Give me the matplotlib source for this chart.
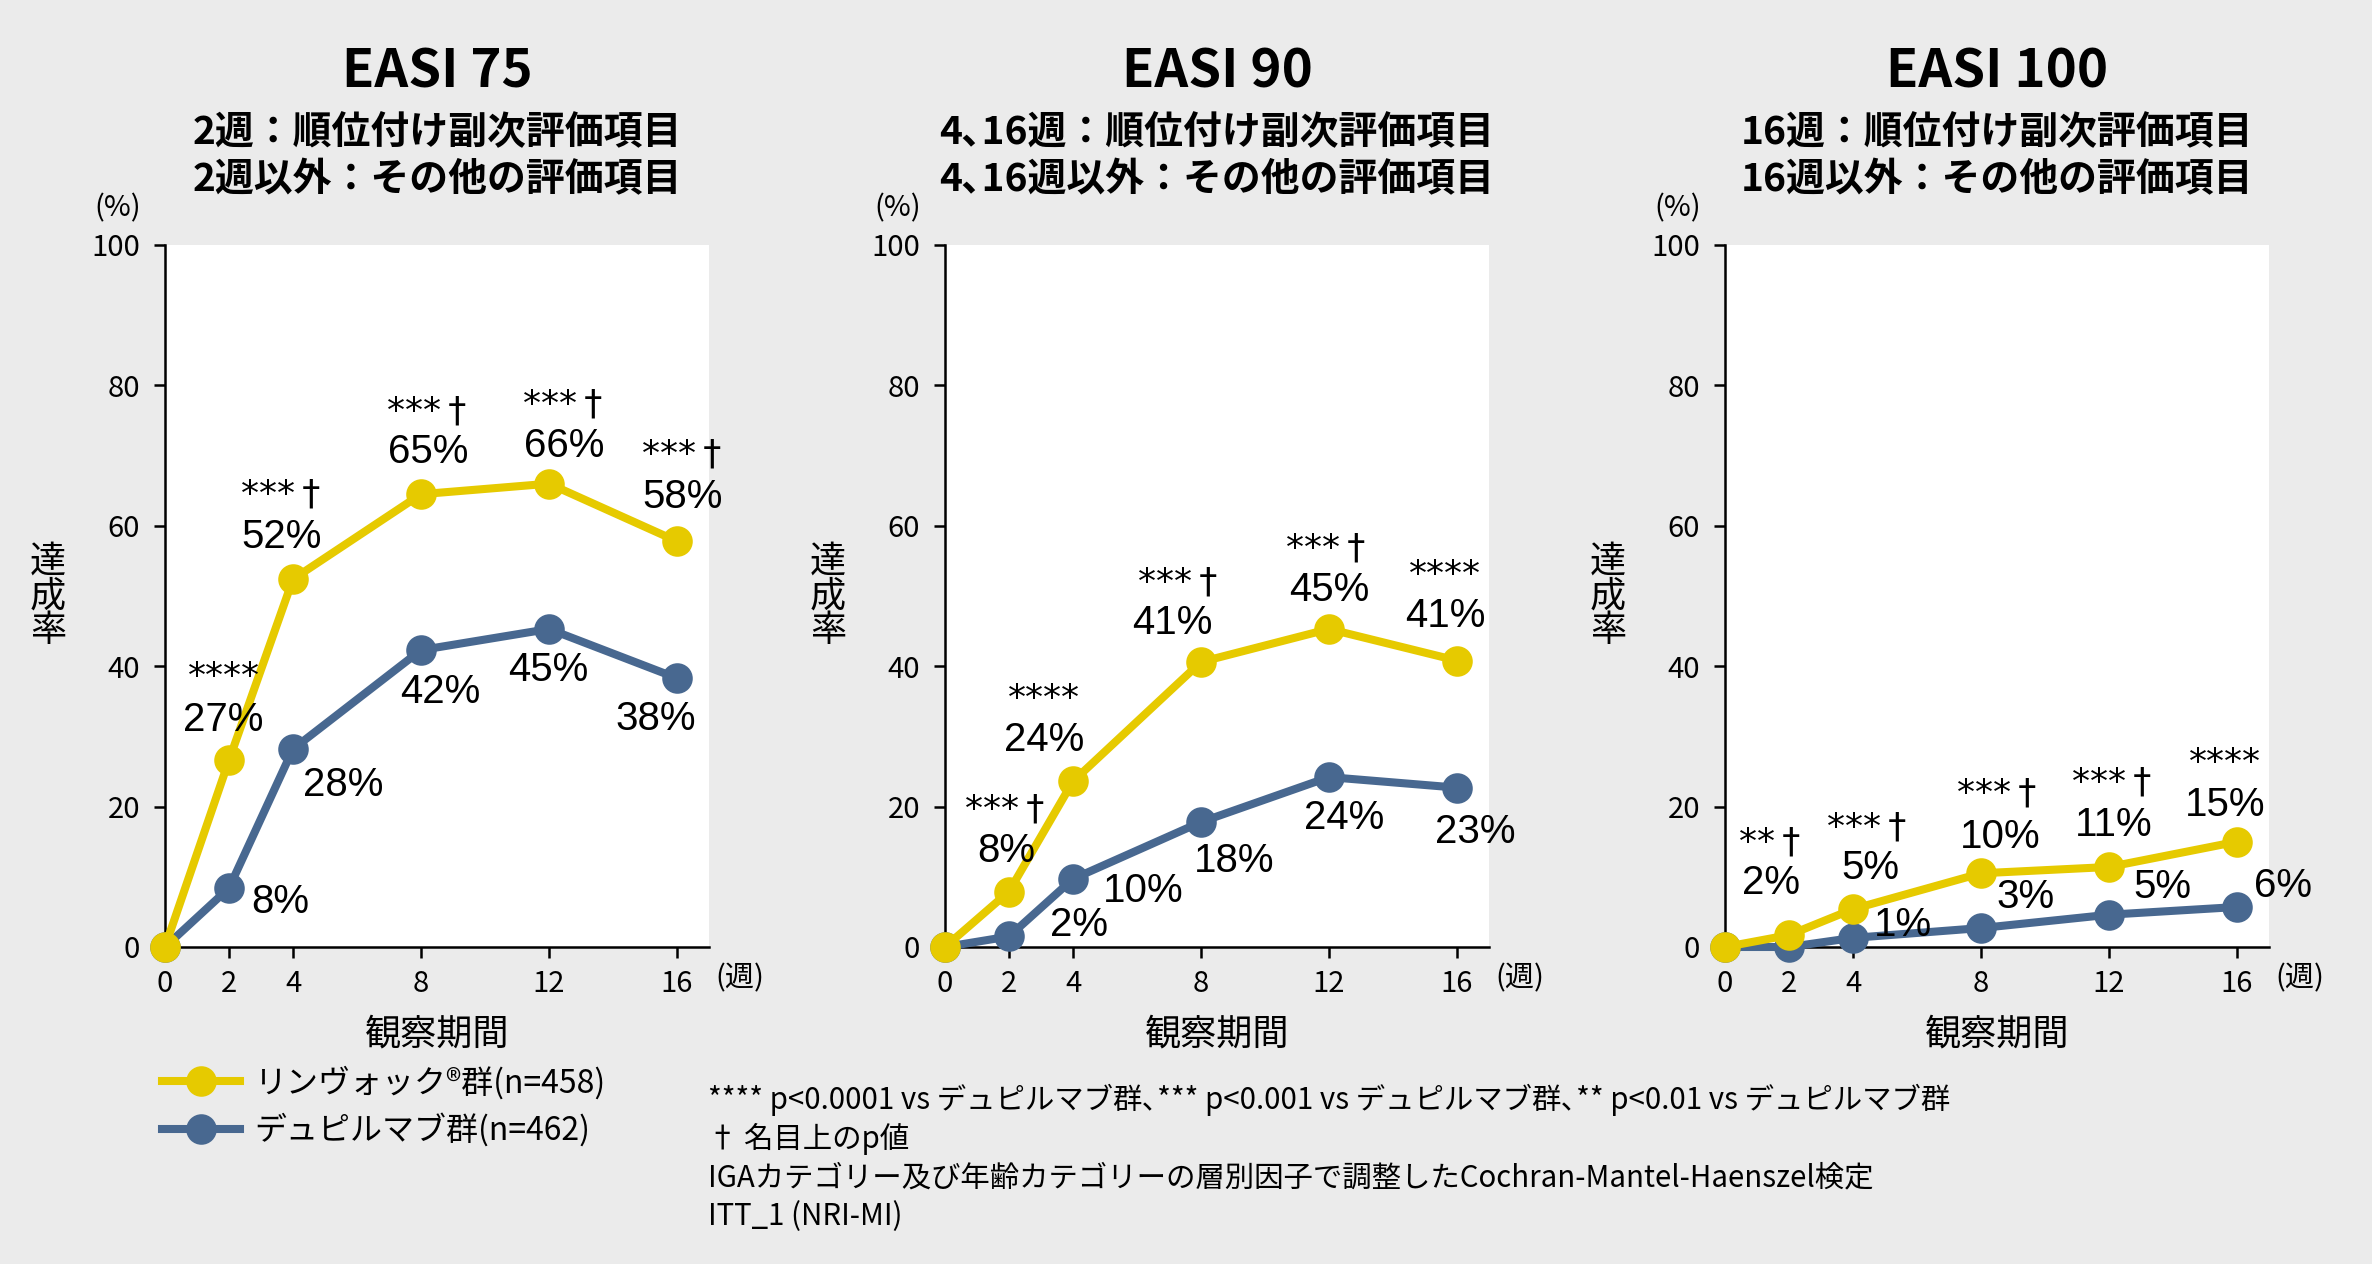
import matplotlib
matplotlib.use("Agg")
import matplotlib.pyplot as plt

plt.rcParams['font.family'] = ['Noto Sans CJK JP', 'DejaVu Sans']

# ---------------- data ----------------
weeks = [0, 2, 4, 8, 12, 16]
week_ticks = [0, 2, 4, 8, 12, 16]
y_ticks = [0, 20, 40, 60, 80, 100]

titles = ["EASI 75", "EASI 90", "EASI 100"]
subtitles_1 = ["2週：順位付け副次評価項目", "4､16週：順位付け副次評価項目", "16週：順位付け副次評価項目"]
subtitles_2 = ["2週以外：その他の評価項目", "4､16週以外：その他の評価項目", "16週以外：その他の評価項目"]

easi75_rinvoq = [0, 26.6, 52.4, 64.5, 66.0, 57.8]
easi75_dupi = [0, 8.4, 28.2, 42.3, 45.3, 38.3]
easi75_rinvoq_labels = ["", "27%", "52%", "65%", "66%", "58%"]
easi75_dupi_labels = ["", "8%", "28%", "42%", "45%", "38%"]
easi75_sig = ["", "****", "***\u2009†", "***\u2009†", "***\u2009†", "***\u2009†"]

easi90_rinvoq = [0, 7.9, 23.6, 40.6, 45.3, 40.8]
easi90_dupi = [0, 1.5, 9.7, 17.8, 24.2, 22.7]
easi90_rinvoq_labels = ["", "8%", "24%", "41%", "45%", "41%"]
easi90_dupi_labels = ["", "2%", "10%", "18%", "24%", "23%"]
easi90_sig = ["", "***\u2009†", "****", "***\u2009†", "***\u2009†", "****"]

easi100_rinvoq = [0, 1.7, 5.4, 10.5, 11.4, 15.0]
easi100_dupi = [0, 0.0, 1.3, 2.7, 4.6, 5.7]
easi100_rinvoq_labels = ["", "2%", "5%", "10%", "11%", "15%"]
easi100_dupi_labels = ["", "", "1%", "3%", "5%", "6%"]
easi100_sig = ["", "**\u2009†", "***\u2009†", "***\u2009†", "***\u2009†", "****"]

legend_labels = ["リンヴォック®群(n=458)", "デュピルマブ群(n=462)"]
footnotes = [
    "**** p<0.0001 vs デュピルマブ群､*** p<0.001 vs デュピルマブ群､** p<0.01 vs デュピルマブ群",
    "† 名目上のp値",
    "IGAカテゴリー及び年齢カテゴリーの層別因子で調整したCochran-Mantel-Haenszel検定",
    "ITT_1 (NRI-MI)",
]

# ---------------- layout / style ----------------
W, H = 2372, 1264
DPI = 200
YELLOW = "#E6CA00"
BLUE = "#486890"
BG = "#EBEBEB"

# label offsets in pixels (dx, dy) for each week point
lay = [
    dict(r=[None, (-6, 40), (-11, 42), (7, 42), (15, 38), (6, 44)],
         s=[None, (-5, 83), (-12, 85), (6, 83), (14, 79), (5, 87)],
         d=[None, (51, -14), (50, -36), (19, -42), (-1, -41), (-21, -41)]),
    dict(r=[None, (-3, 41), (-29, 41), (-29, 39), (0, 39), (-12, 45)],
         s=[None, (-4, 82), (-29, 82), (-23, 79), (-3, 80), (-12, 86)],
         d=[None, (70, 11), (70, -12), (33, -39), (15, -41), (18, -44)]),
    dict(r=[None, (-18, 52), (17, 41), (19, 36), (5, 42), (-12, 37)],
         s=[None, (-19, 93), (14, 82), (16, 80), (3, 84), (-12, 79)],
         d=[None, None, (50, 13), (45, 31), (53, 28), (46, 21)]),
]

panels = [
    (easi75_rinvoq, easi75_dupi, easi75_rinvoq_labels, easi75_dupi_labels, easi75_sig),
    (easi90_rinvoq, easi90_dupi, easi90_rinvoq_labels, easi90_dupi_labels, easi90_sig),
    (easi100_rinvoq, easi100_dupi, easi100_rinvoq_labels, easi100_dupi_labels, easi100_sig),
]

def fx(px):
    return px / W

def fy(py):
    return 1 - py / H

fig = plt.figure(figsize=(W / DPI, H / DPI), dpi=DPI, facecolor=BG)

AX_L0, AX_STEP, AX_W = 165, 780, 544
AX_TOP, AX_BOT = 245, 947

handles = None
for i, (rin, dup, rlab, dlab, sig) in enumerate(panels):
    left = AX_L0 + AX_STEP * i
    cx = left + AX_W / 2
    ax = fig.add_axes([fx(left), fy(AX_BOT), AX_W / W, (AX_BOT - AX_TOP) / H])
    ax.set_facecolor("white")
    ax.set_xlim(0, 17)
    ax.set_ylim(0, 100)
    for sp in ["top", "right"]:
        ax.spines[sp].set_visible(False)
    for sp in ["left", "bottom"]:
        ax.spines[sp].set_linewidth(0.9)
        ax.spines[sp].set_color("black")
    ax.set_xticks(week_ticks)
    ax.set_yticks(y_ticks)
    ax.tick_params(axis="both", direction="out", length=4, width=0.9, labelsize=10.5, colors="black")
    ax.tick_params(axis="x", pad=4)
    ax.tick_params(axis="y", pad=5)

    lb, = ax.plot(weeks, dup, color=BLUE, lw=2.9, marker="o", ms=10, clip_on=False, zorder=3)
    ly, = ax.plot(weeks, rin, color=YELLOW, lw=2.9, marker="o", ms=10, clip_on=False, zorder=4)
    if handles is None:
        handles = [ly, lb]

    L = lay[i]
    for k in range(len(weeks)):
        if rlab[k] and L["r"][k]:
            ax.annotate(rlab[k], (weeks[k], rin[k]), xytext=L["r"][k], textcoords="offset pixels",
                        ha="center", va="center", fontsize=14.5, family="Liberation Sans",
                        color="black", zorder=6)
        if sig[k] and L["s"][k]:
            ax.annotate(sig[k], (weeks[k], rin[k]), xytext=L["s"][k], textcoords="offset pixels",
                        ha="center", va="center", fontsize=13, family="DejaVu Sans",
                        color="black", zorder=6)
        if dlab[k] and L["d"][k]:
            ax.annotate(dlab[k], (weeks[k], dup[k]), xytext=L["d"][k], textcoords="offset pixels",
                        ha="center", va="center", fontsize=14.5, family="Liberation Sans",
                        color="black", zorder=6)

    fig.text(fx(cx), fy(88), titles[i], ha="center", va="baseline", fontsize=19, fontweight="bold")
    fig.text(fx(cx), fy(133), subtitles_1[i], ha="center", va="center", fontsize=14, fontweight="bold")
    fig.text(fx(cx), fy(180), subtitles_2[i], ha="center", va="center", fontsize=14, fontweight="bold")
    fig.text(fx(left - 47), fy(208), "(%)", ha="center", va="center", fontsize=10.5)
    fig.text(fx(left - 117), fy((AX_TOP + AX_BOT) / 2), "達\n成\n率", ha="center", va="center",
             fontsize=13, linespacing=0.95)
    fig.text(fx(left + AX_W + 31), fy(978), "(週)", ha="center", va="center", fontsize=10.5)
    fig.text(fx(cx), fy(1034), "観察期間", ha="center", va="center", fontsize=13)

fig.legend(handles, legend_labels, loc="upper left", bbox_to_anchor=(fx(162), fy(1066)),
           frameon=False, fontsize=11.5, handlelength=2.45, handletextpad=0.45,
           labelspacing=0.42, borderpad=0, borderaxespad=0)

for j, t in enumerate(footnotes):
    fig.text(fx(708), fy(1100 + 39 * j), t, ha="left", va="center", fontsize=10.6)

fig.savefig("out.png", dpi=DPI, facecolor=BG)
